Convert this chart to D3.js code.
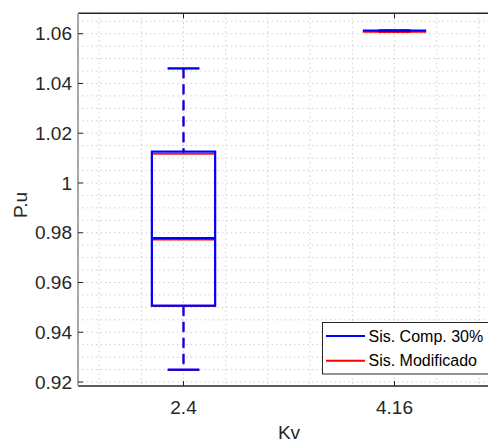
<!DOCTYPE html>
<html>
<head>
<meta charset="utf-8">
<script src="https://cdn.jsdelivr.net/npm/d3@7"></script>
<style>
  body { margin: 0; background: #fff; }
  svg { display: block; font-family: 'Liberation Sans', Arial, sans-serif; }
</style>
</head>
<body>
<svg width="488" height="443"></svg>
<script>
// categories on the x axis
const categories = ['2.4', '4.16']
const seriesNames = ['Sis. Comp. 30%', 'Sis. Modificado']
const seriesColors = ['#0000ff', '#ff0000']

// [lower whisker, q1, median, q3, upper whisker] for each category
const compStats = [
  [0.9250, 0.9507, 0.9778, 1.0126, 1.0461],
  [1.0612, 1.0612, 1.0612, 1.0612, 1.0612]
]
const modStats = [
  [0.9248, 0.9505, 0.9772, 1.0117, 1.0460],
  [1.0607, 1.0607, 1.0607, 1.0607, 1.0607]
]

const yTicks = [0.92, 0.94, 0.96, 0.98, 1, 1.02, 1.04, 1.06]

const svg = d3.select('svg')
const margin = {top: 13.3, left: 78, right: 500, bottom: 386}

const x = d3.scaleLinear().domain([0.5, 2.5]).range([margin.left, margin.right])
const y = d3.scaleLinear().domain([0.9184, 1.0682]).range([margin.bottom, margin.top])

const textColor = '#262626'

// grid (dotted, major + minor)
const grid = svg.append('g')
  .attr('stroke', '#cfcfcf')
  .attr('stroke-width', 1)
  .attr('stroke-dasharray', '1.5,3')

d3.range(0.6, 2.5, 0.2).forEach(v => {
  grid.append('line')
    .attr('x1', x(v)).attr('x2', x(v))
    .attr('y1', margin.top).attr('y2', margin.bottom)
})
d3.range(0.92, 1.068, 0.005).forEach(v => {
  grid.append('line')
    .attr('x1', margin.left).attr('x2', margin.right)
    .attr('y1', y(v)).attr('y2', y(v))
})

// box plots: red drawn first, blue on top
const allStats = [modStats, compStats]
const colors = [seriesColors[1], seriesColors[0]]
const widths = [1.6, 2.2]
const boxHalf = 0.15
const capHalf = 0.075

allStats.forEach((stats, si) => {
  const g = svg.append('g')
    .attr('stroke', colors[si])
    .attr('stroke-width', widths[si])
    .attr('fill', 'none')

  stats.forEach((s, ci) => {
    const cx = ci + 1
    const [lo, q1, med, q3, hi] = s

    // whiskers
    g.append('line')
      .attr('x1', x(cx)).attr('x2', x(cx))
      .attr('y1', y(hi)).attr('y2', y(q3))
      .attr('stroke-dasharray', '10,6')
    g.append('line')
      .attr('x1', x(cx)).attr('x2', x(cx))
      .attr('y1', y(q1)).attr('y2', y(lo))
      .attr('stroke-dasharray', '10,6')

    // caps
    ;[lo, hi].forEach(v => {
      g.append('line')
        .attr('x1', x(cx - capHalf)).attr('x2', x(cx + capHalf))
        .attr('y1', y(v)).attr('y2', y(v))
    })

    // box
    g.append('rect')
      .attr('x', x(cx - boxHalf))
      .attr('y', y(q3))
      .attr('width', x(cx + boxHalf) - x(cx - boxHalf))
      .attr('height', y(q1) - y(q3))

    // median
    g.append('line')
      .attr('x1', x(cx - boxHalf)).attr('x2', x(cx + boxHalf))
      .attr('y1', y(med)).attr('y2', y(med))
  })
})

// axes frame
svg.append('line')
  .attr('x1', margin.left).attr('x2', margin.right)
  .attr('y1', margin.top).attr('y2', margin.top)
  .attr('stroke', textColor).attr('stroke-width', 1.5)
svg.append('line')
  .attr('x1', margin.left).attr('x2', margin.right)
  .attr('y1', margin.bottom).attr('y2', margin.bottom)
  .attr('stroke', textColor).attr('stroke-width', 1.5)
svg.append('line')
  .attr('x1', margin.left).attr('x2', margin.left)
  .attr('y1', margin.top).attr('y2', margin.bottom)
  .attr('stroke', '#a8a8a8').attr('stroke-width', 2)

// y ticks + labels
yTicks.forEach(v => {
  svg.append('line')
    .attr('x1', margin.left).attr('x2', margin.left + 5)
    .attr('y1', y(v)).attr('y2', y(v))
    .attr('stroke', textColor).attr('stroke-width', 1)
  svg.append('text')
    .attr('x', margin.left - 6)
    .attr('y', y(v))
    .attr('dy', '0.35em')
    .attr('text-anchor', 'end')
    .attr('font-size', 19)
    .attr('fill', textColor)
    .text(d3.format('~g')(v))
})

// x ticks + labels
categories.forEach((c, i) => {
  const cx = x(i + 1)
  svg.append('line')
    .attr('x1', cx).attr('x2', cx)
    .attr('y1', margin.bottom).attr('y2', margin.bottom - 5)
    .attr('stroke', textColor)
  svg.append('line')
    .attr('x1', cx).attr('x2', cx)
    .attr('y1', margin.top).attr('y2', margin.top + 5)
    .attr('stroke', textColor)
  svg.append('text')
    .attr('x', cx)
    .attr('y', 414)
    .attr('text-anchor', 'middle')
    .attr('font-size', 19)
    .attr('fill', textColor)
    .text(c)
})

// axis titles
svg.append('text')
  .attr('x', (margin.left + margin.right) / 2)
  .attr('y', 439)
  .attr('text-anchor', 'middle')
  .attr('font-size', 19)
  .attr('fill', textColor)
  .text('Kv')

svg.append('text')
  .attr('transform', 'translate(27,205) rotate(-90)')
  .attr('text-anchor', 'middle')
  .attr('font-size', 19)
  .attr('fill', textColor)
  .text('P.u')

// legend
const legend = svg.append('g')
legend.append('rect')
  .attr('x', 322.5).attr('y', 322.5)
  .attr('width', 175).attr('height', 51.5)
  .attr('fill', '#fff')
  .attr('stroke', textColor)
  .attr('stroke-width', 1)

seriesNames.forEach((name, i) => {
  const ly = 336 + i * 24.7
  legend.append('line')
    .attr('x1', 326).attr('x2', 365)
    .attr('y1', ly).attr('y2', ly)
    .attr('stroke', seriesColors[i])
    .attr('stroke-width', 2)
  legend.append('text')
    .attr('x', 368.5)
    .attr('y', ly)
    .attr('dy', '0.36em')
    .attr('font-size', 16)
    .attr('fill', '#000')
    .text(name)
})
</script>
</body>
</html>
